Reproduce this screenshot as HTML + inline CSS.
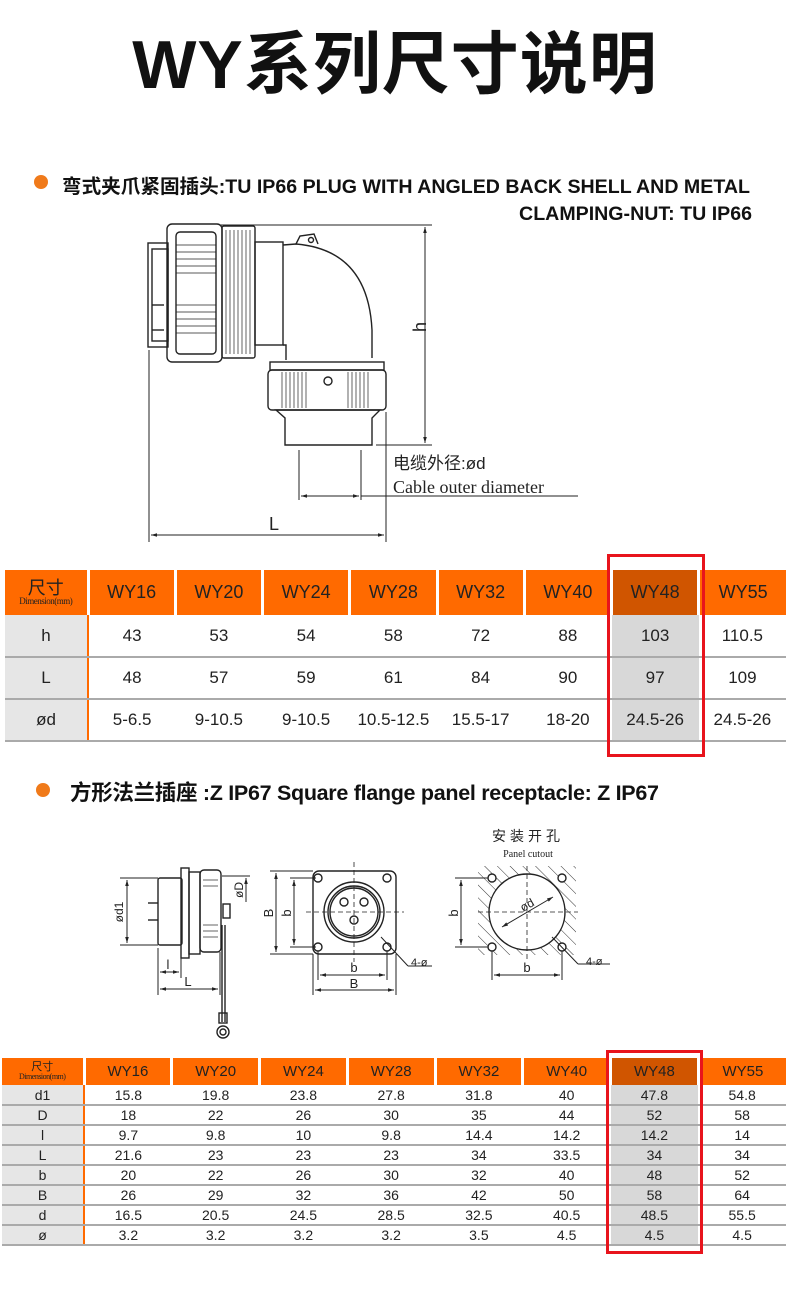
<!DOCTYPE html>
<html><head><meta charset="utf-8"><style>
*{margin:0;padding:0;box-sizing:border-box}
body{width:790px;height:1290px;background:#fff;position:relative;overflow:hidden;font-family:"Liberation Sans","Noto Sans CJK SC",sans-serif;color:#111}
.abs{position:absolute}
.title{left:0;width:790px;top:20px;text-align:center;font-size:68px;font-weight:bold;line-height:90px;letter-spacing:1px}
.dot{width:14px;height:14px;border-radius:50%;background:#f07a1a}
.h2{font-size:19.6px;font-weight:bold;white-space:nowrap}
table{border-collapse:collapse;position:absolute;table-layout:fixed}
td{text-align:center;padding:0;color:#222}
.t1 td{font-size:17px;height:42px;border-bottom:2px solid #aaa}
.t1 tr.hd td{background:#ff6a00;height:45px;border-left:3px solid #fff;border-bottom:none;font-size:18px}
.t2 td{font-size:14px;height:20px;border-bottom:2px solid #aaa}
.t2 tr.hd td{background:#ff6a00;height:27px;border-left:3px solid #fff;border-bottom:none;font-size:15px}
tr.hd td.dk{background:#d05500}
td.g{background:#d8d8d8}
td.f{background:#e6e6e6;border-right:2px solid #ff6a00}
tr.hd td.f{background:#ff6a00;border-left:none;line-height:1}
.f small{font-family:"Liberation Serif",serif;font-size:9px;letter-spacing:-.5px;display:block}
.red{border:3px solid #e8141c}
</style></head><body>
<div class="abs title">WY系列尺寸说明</div>

<div class="abs dot" style="left:34px;top:175px"></div>
<div class="abs h2" style="left:62px;top:170px">弯式夹爪紧固插头:TU IP66 PLUG WITH ANGLED BACK SHELL AND METAL</div>
<div class="abs h2" style="right:38px;top:203px">CLAMPING-NUT: TU IP66</div>

<svg class="abs" style="left:0;top:0" width="790" height="1290" fill="none" stroke="#222" stroke-width="1.4">
<defs>
<marker id="a" viewBox="0 0 10 10" refX="10" refY="5" markerWidth="8" markerHeight="6" orient="auto-start-reverse"><path d="M0,2L10,5L0,8z" fill="#222" stroke="none"/></marker>
<pattern id="hat" width="9" height="9" patternUnits="userSpaceOnUse" patternTransform="rotate(-45)"><line x1="0" y1="0" x2="0" y2="9" stroke="#333" stroke-width="1"/></pattern>
</defs>
<rect x="148" y="243" width="20" height="104"/>
<rect x="152" y="249" width="16" height="92"/>
<line x1="152" y1="305" x2="164" y2="305"/><line x1="152" y1="330" x2="164" y2="330"/>
<rect x="167" y="224" width="55" height="138" rx="5"/>
<rect x="176" y="232" width="40" height="122" rx="4"/>
<g stroke-width="0.8">
<line x1="176" y1="245" x2="216" y2="245"/><line x1="176" y1="252" x2="216" y2="252"/><line x1="176" y1="259" x2="216" y2="259"/><line x1="176" y1="266" x2="216" y2="266"/><line x1="176" y1="273" x2="216" y2="273"/>
<line x1="176" y1="305" x2="216" y2="305"/><line x1="176" y1="312" x2="216" y2="312"/><line x1="176" y1="319" x2="216" y2="319"/><line x1="176" y1="326" x2="216" y2="326"/><line x1="176" y1="333" x2="216" y2="333"/>
</g>
<rect x="222" y="226" width="33" height="132" rx="2"/>
<g stroke-width="0.7">
<line x1="226" y1="230" x2="226" y2="354"/><line x1="230" y1="230" x2="230" y2="354"/><line x1="234" y1="230" x2="234" y2="354"/><line x1="238" y1="230" x2="238" y2="354"/><line x1="242" y1="230" x2="242" y2="354"/><line x1="246" y1="230" x2="246" y2="354"/><line x1="250" y1="230" x2="250" y2="354"/>
</g>
<rect x="255" y="242" width="28" height="103"/>
<path d="M283,245 L296,244 Q368,250 372,330 L372,358"/>
<path d="M283,345 L286,345 L286,360"/>
<path d="M296,244 L300,236 L314,234 L318,244"/><circle cx="311" cy="240" r="2.5"/>
<rect x="270" y="362" width="114" height="8"/>
<rect x="268" y="370" width="118" height="40" rx="4"/>
<g stroke-width="0.7">
<line x1="282" y1="372" x2="282" y2="408"/><line x1="286" y1="372" x2="286" y2="408"/><line x1="290" y1="372" x2="290" y2="408"/><line x1="294" y1="372" x2="294" y2="408"/><line x1="298" y1="372" x2="298" y2="408"/><line x1="302" y1="372" x2="302" y2="408"/><line x1="306" y1="372" x2="306" y2="408"/>
<line x1="348" y1="372" x2="348" y2="408"/><line x1="352" y1="372" x2="352" y2="408"/><line x1="356" y1="372" x2="356" y2="408"/><line x1="360" y1="372" x2="360" y2="408"/><line x1="364" y1="372" x2="364" y2="408"/><line x1="368" y1="372" x2="368" y2="408"/>
</g>
<circle cx="328" cy="381" r="4"/>
<path d="M276,410 L380,410 L372,418 L372,445 L285,445 L285,418 Z"/>
<g stroke-width="1">
<line x1="220" y1="225" x2="432" y2="225"/><line x1="376" y1="445" x2="432" y2="445"/>
<line x1="425" y1="227" x2="425" y2="443" marker-start="url(#a)" marker-end="url(#a)"/>
<line x1="149" y1="350" x2="149" y2="542"/><line x1="386" y1="412" x2="386" y2="542"/>
<line x1="151" y1="535" x2="384" y2="535" marker-start="url(#a)" marker-end="url(#a)"/>
<line x1="299" y1="450" x2="299" y2="500"/><line x1="361" y1="450" x2="361" y2="500"/>
<line x1="301" y1="496" x2="359" y2="496" marker-start="url(#a)" marker-end="url(#a)"/>
<line x1="361" y1="496" x2="578" y2="496"/>
</g>
<rect x="158" y="878" width="24" height="67" rx="2"/>
<rect x="181" y="868" width="8" height="90"/>
<rect x="189" y="872" width="11" height="82"/>
<rect x="200" y="870" width="21" height="82" rx="4"/>
<g stroke-width="0.7"><line x1="203" y1="880" x2="218" y2="880"/><line x1="203" y1="886" x2="218" y2="886"/><line x1="203" y1="925" x2="218" y2="925"/><line x1="203" y1="931" x2="218" y2="931"/><line x1="203" y1="937" x2="218" y2="937"/></g>
<rect x="223" y="904" width="7" height="14"/>
<line x1="148" y1="903" x2="158" y2="903"/><line x1="148" y1="920" x2="158" y2="920"/>
<line x1="222" y1="925" x2="222" y2="1022"/><line x1="225" y1="925" x2="225" y2="1022"/>
<circle cx="223" cy="1032" r="6"/><circle cx="223" cy="1032" r="3"/><rect x="219" y="1013" width="8" height="10"/>
<g stroke-width="1">
<line x1="120" y1="878" x2="158" y2="878"/><line x1="120" y1="945" x2="158" y2="945"/>
<line x1="127" y1="880" x2="127" y2="943" marker-start="url(#a)" marker-end="url(#a)"/>
<line x1="222" y1="876" x2="250" y2="876"/>
<line x1="246" y1="878" x2="246" y2="902" marker-start="url(#a)"/>
<line x1="158" y1="948" x2="158" y2="995"/><line x1="181" y1="958" x2="181" y2="978"/><line x1="220" y1="952" x2="220" y2="995"/>
<line x1="160" y1="972" x2="179" y2="972" marker-start="url(#a)" marker-end="url(#a)"/>
<line x1="160" y1="989" x2="218" y2="989" marker-start="url(#a)" marker-end="url(#a)"/>
</g>
<rect x="313" y="871" width="83" height="83" rx="6"/>
<circle cx="354" cy="912" r="30"/><circle cx="354" cy="912" r="26"/><circle cx="354" cy="912" r="24"/>
<circle cx="318" cy="878" r="4"/><circle cx="387" cy="878" r="4"/><circle cx="318" cy="947" r="4"/><circle cx="387" cy="947" r="4"/>
<circle cx="344" cy="902" r="4"/><circle cx="364" cy="902" r="4"/><circle cx="354" cy="920" r="4"/>
<g stroke-width="0.8" stroke-dasharray="5,3"><line x1="306" y1="912" x2="404" y2="912"/><line x1="354" y1="862" x2="354" y2="962"/></g>
<g stroke-width="1">
<line x1="270" y1="871" x2="313" y2="871"/><line x1="270" y1="954" x2="313" y2="954"/>
<line x1="276" y1="873" x2="276" y2="952" marker-start="url(#a)" marker-end="url(#a)"/>
<line x1="290" y1="878" x2="316" y2="878"/><line x1="290" y1="947" x2="316" y2="947"/>
<line x1="294" y1="880" x2="294" y2="945" marker-start="url(#a)" marker-end="url(#a)"/>
<line x1="318" y1="951" x2="318" y2="980"/><line x1="387" y1="951" x2="387" y2="980"/>
<line x1="313" y1="954" x2="313" y2="995"/><line x1="396" y1="954" x2="396" y2="995"/>
<line x1="320" y1="975" x2="385" y2="975" marker-start="url(#a)" marker-end="url(#a)"/>
<line x1="315" y1="990" x2="394" y2="990" marker-start="url(#a)" marker-end="url(#a)"/>
<line x1="381" y1="937" x2="408" y2="966"/><line x1="408" y1="966" x2="432" y2="966"/>
</g>
<rect x="478" y="866" width="98" height="89" fill="url(#hat)" stroke="none"/>
<circle cx="527" cy="912" r="38" fill="#fff"/>
<circle cx="492" cy="878" r="4" fill="#fff"/><circle cx="562" cy="878" r="4" fill="#fff"/><circle cx="492" cy="947" r="4" fill="#fff"/><circle cx="562" cy="947" r="4" fill="#fff"/>
<g stroke-width="0.8" stroke-dasharray="5,3"><line x1="478" y1="912" x2="578" y2="912"/><line x1="527" y1="866" x2="527" y2="960"/></g>
<g stroke-width="1">
<line x1="502" y1="927" x2="553" y2="897" marker-start="url(#a)" marker-end="url(#a)"/>
<line x1="455" y1="878" x2="488" y2="878"/><line x1="455" y1="947" x2="488" y2="947"/>
<line x1="461" y1="880" x2="461" y2="945" marker-start="url(#a)" marker-end="url(#a)"/>
<line x1="492" y1="951" x2="492" y2="980"/><line x1="562" y1="951" x2="562" y2="980"/>
<line x1="494" y1="975" x2="560" y2="975" marker-start="url(#a)" marker-end="url(#a)"/>
<line x1="552" y1="937" x2="578" y2="964"/><line x1="578" y1="964" x2="610" y2="964"/>
</g>
<g fill="#222" stroke="none">
<text x="420" y="333" font-size="18" transform="rotate(-90 420 327)" text-anchor="middle" font-family="Liberation Sans">h</text>
<text x="274" y="530" font-size="18" text-anchor="middle" font-family="Liberation Sans">L</text>
<text x="393" y="469" font-size="17" font-family="Liberation Sans,Noto Sans CJK SC,sans-serif">电缆外径:ød</text>
<text x="393" y="493" font-size="18" font-family="Liberation Serif,serif">Cable outer diameter</text>
<text x="123" y="912" font-size="12" transform="rotate(-90 123 912)" text-anchor="middle" font-family="Liberation Sans">ød1</text>
<text x="243" y="890" font-size="12" transform="rotate(-90 243 890)" text-anchor="middle" font-family="Liberation Sans">øD</text>
<text x="168" y="969" font-size="13" text-anchor="middle" font-family="Liberation Sans">l</text>
<text x="188" y="986" font-size="13" text-anchor="middle" font-family="Liberation Sans">L</text>
<text x="273" y="913" font-size="13" transform="rotate(-90 273 913)" text-anchor="middle" font-family="Liberation Sans">B</text>
<text x="291" y="913" font-size="13" transform="rotate(-90 291 913)" text-anchor="middle" font-family="Liberation Sans">b</text>
<text x="354" y="972" font-size="13" text-anchor="middle" font-family="Liberation Sans">b</text>
<text x="354" y="988" font-size="13" text-anchor="middle" font-family="Liberation Sans">B</text>
<text x="411" y="966" font-size="11" font-family="Liberation Sans">4-ø</text>
<text x="458" y="913" font-size="13" transform="rotate(-90 458 913)" text-anchor="middle" font-family="Liberation Sans">b</text>
<text x="527" y="972" font-size="13" text-anchor="middle" font-family="Liberation Sans">b</text>
<text x="586" y="965" font-size="11" font-family="Liberation Sans">4-ø</text>
<text x="523" y="912" font-size="12" transform="rotate(-30 523 912)" font-family="Liberation Sans">ød</text>
<text x="528" y="841" font-size="14" text-anchor="middle" letter-spacing="4" font-family="Noto Sans CJK SC,sans-serif">安装开孔</text>
<text x="528" y="857" font-size="10" text-anchor="middle" font-family="Liberation Serif,serif">Panel cutout</text>
</g>
</svg>

<table class="t1" style="left:5px;top:570px;width:781px">
<colgroup><col style="width:83px"><col><col><col><col><col><col><col><col></colgroup>
<tr class="hd"><td class="f">尺寸<small>Dimension(mm)</small></td><td>WY16</td><td>WY20</td><td>WY24</td><td>WY28</td><td>WY32</td><td>WY40</td><td class="dk">WY48</td><td>WY55</td></tr>
<tr><td class="f">h</td><td>43</td><td>53</td><td>54</td><td>58</td><td>72</td><td>88</td><td class="g">103</td><td>110.5</td></tr>
<tr><td class="f">L</td><td>48</td><td>57</td><td>59</td><td>61</td><td>84</td><td>90</td><td class="g">97</td><td>109</td></tr>
<tr><td class="f">ød</td><td>5-6.5</td><td>9-10.5</td><td>9-10.5</td><td>10.5-12.5</td><td>15.5-17</td><td>18-20</td><td class="g">24.5-26</td><td>24.5-26</td></tr>
</table>
<div class="abs red" style="left:607px;top:554px;width:98px;height:203px"></div>

<div class="abs dot" style="left:36px;top:783px"></div>
<div class="abs h2" style="left:70px;top:776px;font-size:21.5px;letter-spacing:-0.3px">方形法兰插座 :Z IP67 Square flange panel receptacle: Z IP67</div>

<table class="t2" style="left:2px;top:1058px;width:784px">
<colgroup><col style="width:82px"><col><col><col><col><col><col><col><col></colgroup>
<tr class="hd"><td class="f" style="font-size:11px">尺寸<small style="font-size:8px">Dimension(mm)</small></td><td>WY16</td><td>WY20</td><td>WY24</td><td>WY28</td><td>WY32</td><td>WY40</td><td class="dk">WY48</td><td>WY55</td></tr>
<tr><td class="f">d1</td><td>15.8</td><td>19.8</td><td>23.8</td><td>27.8</td><td>31.8</td><td>40</td><td class="g">47.8</td><td>54.8</td></tr>
<tr><td class="f">D</td><td>18</td><td>22</td><td>26</td><td>30</td><td>35</td><td>44</td><td class="g">52</td><td>58</td></tr>
<tr><td class="f">l</td><td>9.7</td><td>9.8</td><td>10</td><td>9.8</td><td>14.4</td><td>14.2</td><td class="g">14.2</td><td>14</td></tr>
<tr><td class="f">L</td><td>21.6</td><td>23</td><td>23</td><td>23</td><td>34</td><td>33.5</td><td class="g">34</td><td>34</td></tr>
<tr><td class="f">b</td><td>20</td><td>22</td><td>26</td><td>30</td><td>32</td><td>40</td><td class="g">48</td><td>52</td></tr>
<tr><td class="f">B</td><td>26</td><td>29</td><td>32</td><td>36</td><td>42</td><td>50</td><td class="g">58</td><td>64</td></tr>
<tr><td class="f">d</td><td>16.5</td><td>20.5</td><td>24.5</td><td>28.5</td><td>32.5</td><td>40.5</td><td class="g">48.5</td><td>55.5</td></tr>
<tr><td class="f">ø</td><td>3.2</td><td>3.2</td><td>3.2</td><td>3.2</td><td>3.5</td><td>4.5</td><td class="g">4.5</td><td>4.5</td></tr>
</table>
<div class="abs red" style="left:606px;top:1050px;width:97px;height:204px"></div>
</body></html>
